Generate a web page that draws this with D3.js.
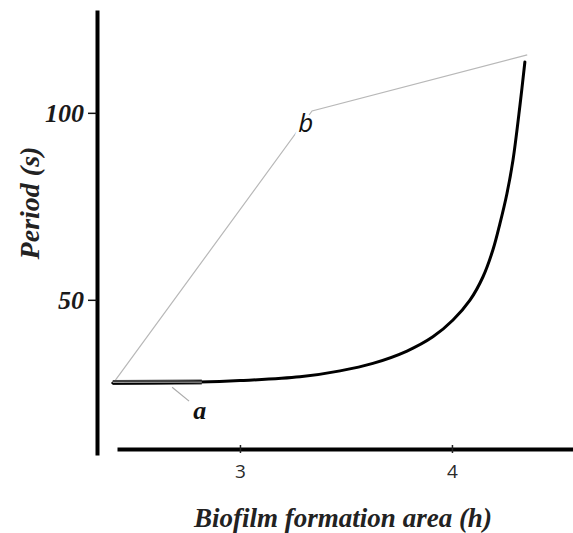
<!DOCTYPE html>
<html>
<head>
<meta charset="utf-8">
<script src="https://cdn.jsdelivr.net/npm/d3@7"></script>
<style>
  html, body { margin: 0; padding: 0; background: #fff; }
  svg { display: block; }
</style>
</head>
<body>
<svg id="chart" width="573" height="533"></svg>
<script>
// ---- data ----
const curveX = [2.40, 2.81, 3.00, 3.283, 3.472, 3.627, 3.788, 3.910, 4.005, 4.085, 4.146, 4.193, 4.226, 4.259, 4.288, 4.321, 4.344];
const curveY = [27.75, 28.0, 28.4, 29.4, 31.0, 33.0, 36.3, 40.1, 44.6, 49.9, 56.1, 63.3, 70.3, 78.3, 87.4, 102.1, 113.6];
const segAX = [2.40, 2.82];
const segAY = [27.9, 28.0];
const bX = [2.41, 3.34, 4.355];
const bY = [28.3, 100.5, 115.5];
const xTicks = [3, 4];
const yTicks = [50, 100];
const labelA = {x: 2.81, y: 20.5, text: "a", px: [2.68, 2.76], py: [26.6, 22.9]};
const labelB = {x: 3.31, y: 97.4, text: "b"};
const xTitle = "Biofilm formation area (h)";
const yTitle = "Period (s)";

// ---- scales ----
const svg = d3.select("#chart");
const x = d3.scaleLinear().domain([2.42, 4.571]).range([117, 573]);
const y = d3.scaleLinear().domain([8.5, 127.5]).range([455, 10]);
const serif = "'Liberation Serif','Times New Roman',serif";

// ---- axes ----
const yAxis = svg.append("g").attr("transform", "translate(97,0)")
  .call(d3.axisLeft(y).tickValues(yTicks).tickSizeInner(9).tickSizeOuter(0).tickPadding(4));
yAxis.select(".domain").attr("stroke", "#000").attr("stroke-width", 4);
yAxis.selectAll(".tick line").attr("stroke", "#111").attr("stroke-width", 1.5);
yAxis.selectAll(".tick text")
  .attr("font-family", serif).attr("font-style", "italic").attr("font-weight", "bold")
  .attr("font-size", 26).attr("fill", "#1a1a1a").attr("dy", "0.34em");

const xAxis = svg.append("g").attr("transform", "translate(0,449)")
  .call(d3.axisBottom(x).tickValues(xTicks).tickFormat(d3.format("d")).tickSizeInner(4).tickSizeOuter(0).tickPadding(12));
xAxis.select(".domain").attr("stroke", "#000").attr("stroke-width", 4);
xAxis.selectAll(".tick line").attr("stroke", "#222").attr("stroke-width", 1.5).attr("y1", -4);
xAxis.selectAll(".tick text")
  .attr("font-family", "'Open Sans','Noto Sans',sans-serif").attr("font-size", 19).attr("fill", "#2a2a2a");

// ---- b line ----
const line = d3.line().x(d => x(d[0])).y(d => y(d[1]));
svg.append("path").datum(d3.zip(bX, bY))
  .attr("d", line).attr("fill", "none").attr("stroke", "#b8b8b8").attr("stroke-width", 1.2);

// ---- a marker segment ----
svg.append("path").datum(d3.zip(segAX, segAY))
  .attr("d", line).attr("fill", "none").attr("stroke", "#444").attr("stroke-width", 5);

// ---- main curve ----
const curve = d3.line().x(d => x(d[0])).y(d => y(d[1])).curve(d3.curveCatmullRom.alpha(0.5));
svg.append("path").datum(d3.zip(curveX, curveY))
  .attr("d", curve).attr("fill", "none").attr("stroke", "#000").attr("stroke-width", 3)
  .attr("stroke-linecap", "round");

svg.append("path").datum(d3.zip(segAX, segAY))
  .attr("d", line).attr("fill", "none").attr("stroke", "#9a9a9a").attr("stroke-width", 1.2);

// ---- labels a / b ----
svg.append("path").datum(d3.zip(labelA.px, labelA.py))
  .attr("d", line).attr("fill", "none").attr("stroke", "#aaa").attr("stroke-width", 1.2);
svg.append("text").attr("x", x(labelA.x)).attr("y", y(labelA.y))
  .attr("text-anchor", "middle").attr("dy", "0.35em")
  .attr("font-family", serif).attr("font-style", "italic").attr("font-weight", "bold")
  .attr("font-size", 26).attr("fill", "#111").text(labelA.text);

svg.append("text").attr("x", x(labelB.x)).attr("y", y(labelB.y))
  .attr("text-anchor", "middle").attr("dy", "0.35em")
  .attr("font-family", "'Open Sans','Noto Sans',sans-serif").attr("font-style", "italic")
  .attr("font-size", 26).attr("fill", "#111")
  .attr("stroke", "#fff").attr("stroke-width", 6).attr("paint-order", "stroke")
  .text(labelB.text);

// ---- titles ----
svg.append("text").attr("x", 343).attr("y", 518).attr("dy", "0.35em")
  .attr("text-anchor", "middle")
  .attr("font-family", serif).attr("font-style", "italic").attr("font-weight", "bold")
  .attr("font-size", 27).attr("fill", "#222").text(xTitle);

svg.append("text").attr("transform", "translate(29,203) rotate(-90)").attr("dy", "0.35em")
  .attr("text-anchor", "middle")
  .attr("font-family", serif).attr("font-style", "italic").attr("font-weight", "bold")
  .attr("font-size", 28).attr("fill", "#222").text(yTitle);
</script>
</body>
</html>
